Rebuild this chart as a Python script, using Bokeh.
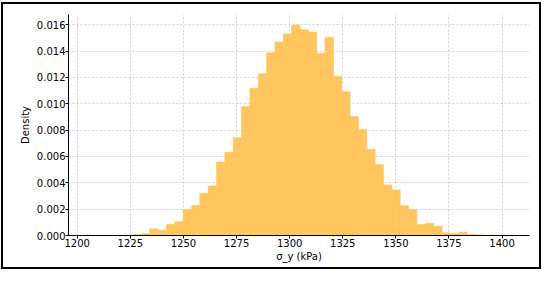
import numpy as np
from bokeh.plotting import figure
from bokeh.models import Range1d, FixedTicker, NumeralTickFormatter
from bokeh.embed import file_html
from bokeh.resources import INLINE

# Histogram of sigma_y (kPa): 50 bins between the data extremes
x_min = 1202.7
x_max = 1399.2
density = [
    0.00003, 0.0, 0.0, 0.0, 0.0, 0.00003, 0.00008, 0.00015, 0.00050, 0.00040,
    0.00083, 0.00105, 0.00196, 0.00228, 0.00320, 0.00376, 0.00558, 0.00630, 0.00742, 0.00980,
    0.01118, 0.01229, 0.01387, 0.01469, 0.01529, 0.01597, 0.01562, 0.01545, 0.01384, 0.01504,
    0.01209, 0.01091, 0.00903, 0.00805, 0.00654, 0.00539, 0.00384, 0.00346, 0.00226, 0.00196,
    0.00083, 0.00093, 0.00070, 0.00020, 0.00015, 0.00025, 0.00010, 0.00005, 0.00002, 0.00002,
]
x_ticks = [1200, 1225, 1250, 1275, 1300, 1325, 1350, 1375, 1400]
y_ticks = [0.0, 0.002, 0.004, 0.006, 0.008, 0.010, 0.012, 0.014, 0.016]

edges = np.linspace(x_min, x_max, len(density) + 1)

FONT = "DejaVu Sans"
BAR = "#FFC55E"

p = figure(
    width=540, height=267,
    output_backend="svg", toolbar_location=None,
    x_range=Range1d(1195.9, 1412.9), y_range=Range1d(0, 0.01678),
    min_border_left=65, min_border_right=14, min_border_top=10, min_border_bottom=36,
)
p.styles = {"border": "2px solid black", "margin-top": "2px", "margin-left": "1px"}
p.outline_line_color = None
p.background_fill_color = "white"
p.border_fill_color = "white"

p.quad(left=edges[:-1], right=edges[1:], bottom=0, top=density,
       fill_color=BAR, line_color=BAR, line_width=0.6)

for ax in (p.xaxis[0], p.yaxis[0]):
    ax.axis_line_color = "black"
    ax.axis_line_width = 1
    ax.major_tick_line_color = "black"
    ax.major_tick_out = 3
    ax.major_tick_in = 0
    ax.minor_tick_line_color = None
    ax.major_label_text_font = FONT
    ax.major_label_text_font_size = "10px"
    ax.major_label_text_color = "black"
    ax.axis_label_text_font = FONT
    ax.axis_label_text_font_size = "10px"
    ax.axis_label_text_font_style = "normal"
    ax.axis_label_text_color = "black"
    ax.major_label_standoff = 0

p.xaxis.ticker = FixedTicker(ticks=x_ticks)
p.yaxis.ticker = FixedTicker(ticks=y_ticks)
p.yaxis.formatter = NumeralTickFormatter(format="0.000")
p.xaxis.axis_label = "σ_y (kPa)"
p.yaxis.axis_label = "Density"
p.xaxis.axis_label_standoff = 1
p.yaxis.axis_label_standoff = 3

p.xgrid.ticker = FixedTicker(ticks=x_ticks)
p.ygrid.ticker = FixedTicker(ticks=y_ticks)
for g in (p.xgrid[0], p.ygrid[0]):
    g.grid_line_color = "#d0d0d0"
    g.grid_line_dash = "2 2"
    g.grid_line_width = 1

open("out.html", "w").write(file_html(p, INLINE))
